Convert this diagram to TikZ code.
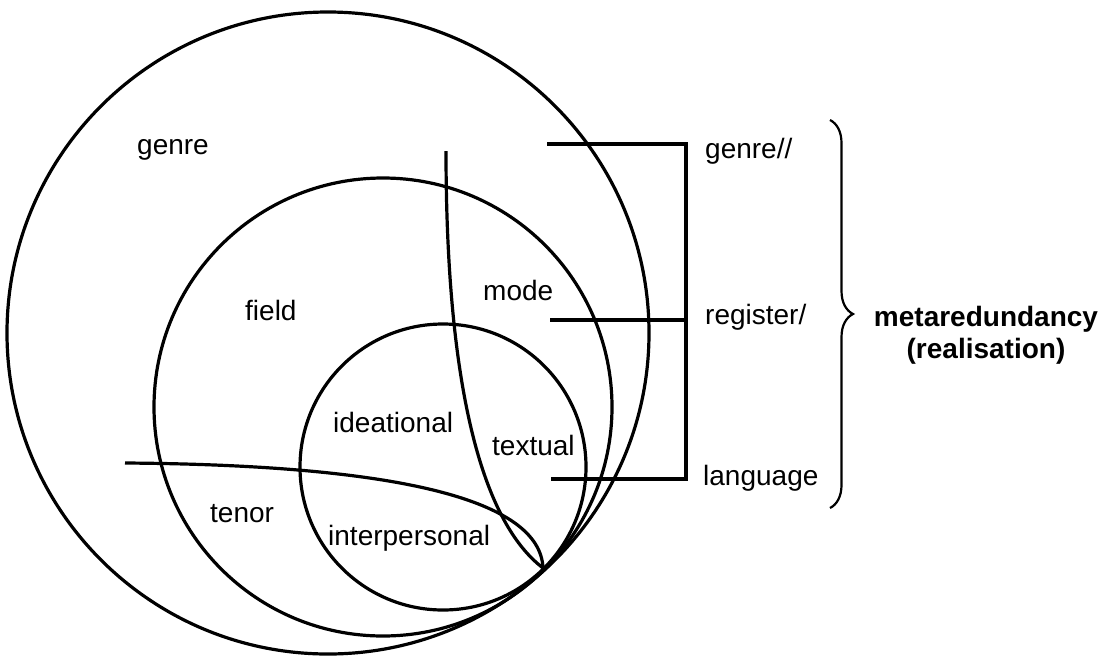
\documentclass[tikz,border=0pt]{standalone}
\usepackage{fontspec}
\setmainfont{Liberation Sans}
\usetikzlibrary{decorations.pathreplacing}
\begin{document}
\begin{tikzpicture}[x=1pt,y=-1pt,
  ring/.style={line width=3.2pt},
  rule/.style={line width=3.2pt},
  lbl/.style={anchor=base west,inner sep=0pt,font=\fontsize{28}{31}\selectfont},
  boldlbl/.style={anchor=base,inner sep=0pt,font=\fontsize{28}{31}\selectfont\bfseries}]
\useasboundingbox (0,0) rectangle (1102,659);
% circles
\coordinate (cL) at (328,333);
\coordinate (cM) at (383,407);
\coordinate (cS) at (443,467);
\coordinate (T) at (543,568);
\draw[ring] (cL) circle[radius=321pt];
\draw[ring] (cM) circle[radius=229pt];
\draw[ring] (cS) circle[radius=143pt];
% mode curve and tenor curve
\coordinate (modeTop) at (446,151);
\coordinate (tenorStart) at (125,463);
\draw[ring] (modeTop) .. controls (446,380) and (480,520) .. (T);
\draw[ring] (tenorStart) .. controls (400,465) and (540,500) .. (T);
% bracket lines
\coordinate (g0) at (547,144);
\coordinate (g1) at (686,144);
\coordinate (r0) at (550,320);
\coordinate (r1) at (686,320);
\coordinate (l0) at (551,479);
\coordinate (l1) at (686,479);
\draw[rule] (g0) -- (g1) -- (l1) -- (l0);
\draw[rule] (r0) -- (r1);
% labels
\node[lbl] (genre) at (137,154) {genre};
\node[lbl] (field) at (245,320) {field};
\node[lbl] (mode) at (483,300) {mode};
\node[lbl] (ideational) at (333,432) {ideational};
\node[lbl] (textual) at (492,455) {textual};
\node[lbl] (tenor) at (210,522) {tenor};
\node[lbl] (interpersonal) at (328,545) {interpersonal};
\node[lbl] (genreR) at (705,158) {genre//};
\node[lbl] (register) at (705,324) {register/};
\node[lbl] (language) at (703,485) {language};
% brace
\coordinate (b0) at (830,120);
\coordinate (b1) at (830,508);
\draw[line width=2.2pt,decorate,decoration={brace,amplitude=23pt}] (b0) -- (b1);
\node[boldlbl] (meta) at (986,326) {metaredundancy};
\node[boldlbl] (real) at (986,358) {(realisation)};
\end{tikzpicture}
\end{document}
